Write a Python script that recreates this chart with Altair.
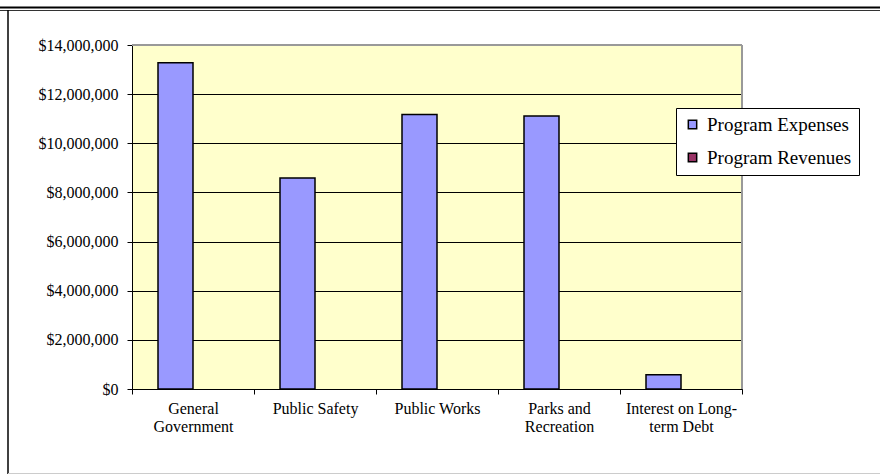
import altair as alt
import pandas as pd

categories = ["General Government", "Public Safety", "Public Works",
              "Parks and Recreation", "Interest on Long-term Debt"]
label_lines = {
    "General Government": ["General", "Government"],
    "Public Safety": ["Public Safety"],
    "Public Works": ["Public Works"],
    "Parks and Recreation": ["Parks and", "Recreation"],
    "Interest on Long-term Debt": ["Interest on Long-", "term Debt"],
}
series = ["Program Expenses", "Program Revenues"]
expenses = [13280000, 8590000, 11170000, 11110000, 580000]
revenues = [0, 0, 0, 0, 0]
y_ticks = [0, 2000000, 4000000, 6000000, 8000000, 10000000, 12000000, 14000000]

rows = []
for c, e, r in zip(categories, expenses, revenues):
    rows.append({"category": c, "series": series[0], "value": e})
    rows.append({"category": c, "series": series[1], "value": r})
df = pd.DataFrame(rows)

expr = " : ".join(
    f"datum.label == '{k}' ? {v!r}" for k, v in label_lines.items()
) + " : datum.label"

FONT = "Liberation Serif"
W, H = 610, 344

bars = alt.Chart(df).transform_filter("datum.value > 0").mark_bar(
    stroke="black", strokeWidth=1.5).encode(
    x=alt.X("category:N", sort=categories, title=None,
            scale=alt.Scale(domain=categories, paddingInner=0, paddingOuter=0),
            axis=alt.Axis(labelAngle=0, labelExpr=expr, tickBand="extent",
                          tickColor="black", tickSize=5, domainColor="black",
                          labelFont=FONT, labelFontSize=16, labelColor="black",
                          labelPadding=6, labelLineHeight=18, grid=False)),
    xOffset=alt.XOffset("series:N", sort=series,
                        scale=alt.Scale(domain=series, paddingInner=0,
                                        paddingOuter=0.743)),
    y=alt.Y("value:Q", title=None,
            scale=alt.Scale(domain=[0, 14000000], nice=False),
            axis=alt.Axis(values=y_ticks, format="$,.0f", grid=True,
                          gridColor="black", gridWidth=1, tickColor="black",
                          tickSize=5, domainColor="black", labelFont=FONT,
                          labelFontSize=16, labelColor="black",
                          labelPadding=9)),
    color=alt.Color("series:N", sort=series,
                    scale=alt.Scale(domain=series, range=["#9999FF", "#993366"]),
                    legend=alt.Legend(title=None, orient="none",
                                      legendX=544, legendY=63,
                                      fillColor="white", strokeColor="black",
                                      padding=7, symbolType="square",
                                      symbolSize=70, symbolStrokeColor="black",
                                      symbolStrokeWidth=1.5, labelFont=FONT,
                                      labelFontSize=19, labelColor="black",
                                      labelOffset=5, rowPadding=13)),
)

frame_h = pd.DataFrame({"dummy": [0]})
top1 = alt.Chart(frame_h).mark_rule(color="black", strokeWidth=2).encode(
    x=alt.value(-132), x2=alt.value(748), y=alt.value(-37.5))
top2 = alt.Chart(frame_h).mark_rule(color="#333333", strokeWidth=1).encode(
    x=alt.value(-132), x2=alt.value(748), y=alt.value(-34.5))
left = alt.Chart(frame_h).mark_rule(color="black", strokeWidth=1.5).encode(
    x=alt.value(-124), y=alt.value(-35), y2=alt.value(430))
bottom = alt.Chart(frame_h).mark_rule(color="#cccccc", strokeWidth=1).encode(
    x=alt.value(-124), x2=alt.value(748), y=alt.value(428.5))
border_top = alt.Chart(frame_h).mark_rule(color="#999999", strokeWidth=2).encode(
    x=alt.value(0), x2=alt.value(W), y=alt.value(0))
border_right = alt.Chart(frame_h).mark_rule(color="#999999", strokeWidth=2).encode(
    x=alt.value(W), y=alt.value(0), y2=alt.value(H))

chart = alt.layer(bars, border_top, border_right, top1, top2, left, bottom).properties(
    width=W, height=H,
    autosize=alt.AutoSizeParams(type="none"),
    padding={"left": 132, "top": 45, "right": 880 - 132 - W, "bottom": 474 - 45 - H},
    background="white",
).configure_view(fill="#FFFFCC", stroke=None)

chart.save("out.html", embed_options={"renderer": "svg", "actions": False})
